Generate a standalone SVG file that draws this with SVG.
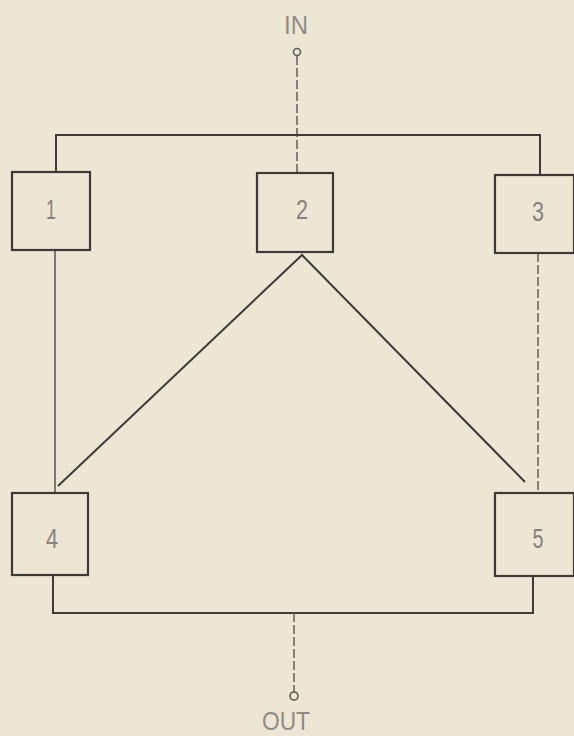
<svg xmlns="http://www.w3.org/2000/svg" width="574" height="736" viewBox="0 0 574 736">
<style>
.box{fill:none;stroke:#3d3b37;stroke-width:2.2}
.ln{fill:none;stroke:#3d3b37;stroke-width:2}
.lt{fill:none;stroke:#5e5b55;stroke-width:1.6}
.dash{fill:none;stroke:#6a6660;stroke-width:1.6;stroke-dasharray:9 3}
.lbl{font-family:"Liberation Sans",Arial,sans-serif;font-size:28px;fill:#85827b;font-weight:normal}
.io{font-family:"Liberation Sans",Arial,sans-serif;font-size:25px;fill:#8f8c85}
</style>
<rect width="574" height="736" fill="#eee6d4"/>
<g id="connectors">
<line class="dash" x1="297" y1="56" x2="297" y2="173"/>
<polyline class="ln" points="56,172 56,135 540,135 540,175"/>
<line class="lt" x1="55" y1="250" x2="55" y2="493"/>
<line class="dash" x1="538" y1="253" x2="538" y2="493"/>
<polyline class="ln" points="58,486 302,255 525,482"/>
<polyline class="ln" points="53,575 53,613 533,613 533,576"/>
<line class="dash" x1="294" y1="613" x2="294" y2="692"/>
<circle cx="297" cy="52" r="3.5" class="lt"/>
<circle cx="294" cy="696" r="4" class="lt"/>
</g>
<g id="in"><text class="io" x="296" y="34" text-anchor="middle" textLength="24" lengthAdjust="spacingAndGlyphs">IN</text></g>
<g id="out"><text class="io" x="286" y="730" text-anchor="middle" textLength="48" lengthAdjust="spacingAndGlyphs">OUT</text></g>
<g id="n1"><rect class="box" x="12" y="172" width="78" height="78"/><text class="lbl" x="51" y="219" text-anchor="middle" textLength="10" lengthAdjust="spacingAndGlyphs">1</text></g>
<g id="n2"><rect class="box" x="257" y="173" width="76" height="79"/><text class="lbl" x="302" y="219" text-anchor="middle" textLength="12" lengthAdjust="spacingAndGlyphs">2</text></g>
<g id="n3"><rect class="box" x="495" y="175" width="79" height="78"/><text class="lbl" x="538" y="221" text-anchor="middle" textLength="12" lengthAdjust="spacingAndGlyphs">3</text></g>
<g id="n4"><rect class="box" x="12" y="493" width="76" height="82"/><text class="lbl" x="52" y="548" text-anchor="middle" textLength="12" lengthAdjust="spacingAndGlyphs">4</text></g>
<g id="n5"><rect class="box" x="495" y="493" width="79" height="83"/><text class="lbl" x="538" y="548" text-anchor="middle" textLength="11" lengthAdjust="spacingAndGlyphs">5</text></g>
</svg>
